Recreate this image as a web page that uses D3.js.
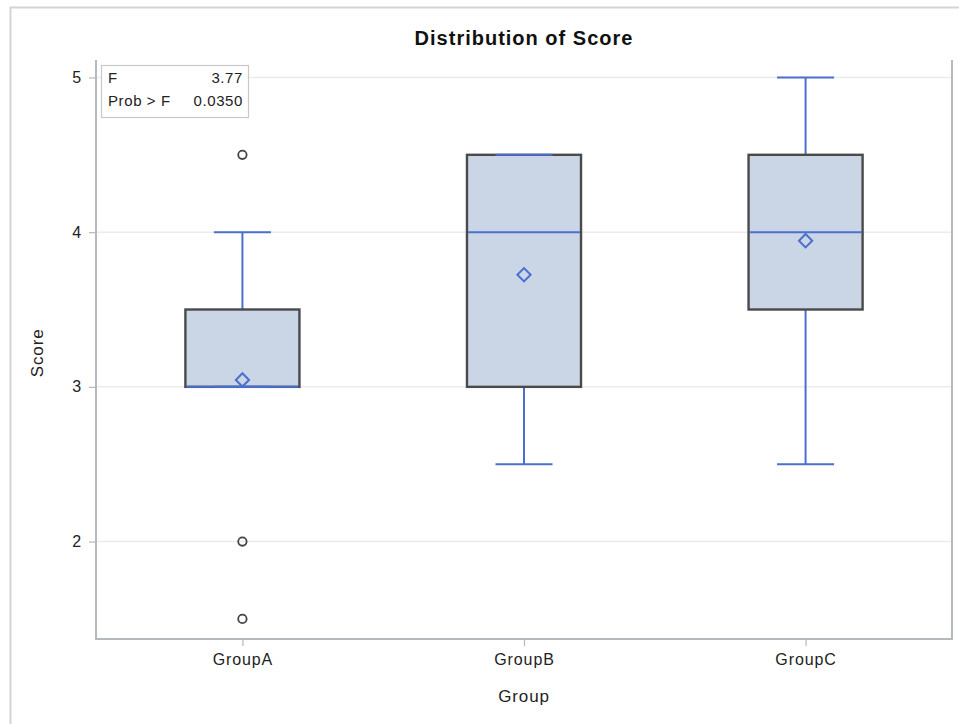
<!DOCTYPE html>
<html>
<head>
<meta charset="utf-8">
<script src="https://cdn.jsdelivr.net/npm/d3@7"></script>
<style>
  html, body { margin: 0; padding: 0; background: #fff; }
  svg { display: block; font-family: "Liberation Sans", Arial, sans-serif; }
</style>
</head>
<body>
<div id="chart"></div>
<script>
// data
const groups = ["GroupA", "GroupB", "GroupC"];
const q1 = [3.0, 3.0, 3.5];
const medians = [3.0, 4.0, 4.0];
const q3 = [3.5, 4.5, 4.5];
const whiskerLow = [3.0, 2.5, 2.5];
const whiskerHigh = [4.0, 4.5, 5.0];
const means = [3.045, 3.725, 3.945];
const outliers = [[4.5, 2.0, 1.5], [], []];
const yTicks = [2, 3, 4, 5];
const statLabels = ["F", "Prob > F"];
const statValues = ["3.77", "0.0350"];

const W = 959, H = 724;
const margin = { top: 62, right: 7, bottom: 85, left: 96 };

const svg = d3.select("#chart").append("svg")
  .attr("width", W).attr("height", H);

// outer frame of the graph
svg.append("path")
  .attr("d", `M10.5,${H} V7.5 H${W}`)
  .attr("fill", "none").attr("stroke", "#d4d4d4").attr("stroke-width", 2);

const x = d3.scalePoint()
  .domain(groups)
  .range([margin.left, W - margin.right])
  .padding(0.52);

const y = d3.scaleLinear()
  .domain([1.37, 5.1])
  .range([H - margin.bottom, margin.top]);

const step = x.step();
const boxW = step * 0.405;
const capW = boxW / 2;

// grid
svg.append("g")
  .selectAll("line")
  .data(yTicks)
  .join("line")
  .attr("x1", margin.left).attr("x2", W - margin.right)
  .attr("y1", d => y(d)).attr("y2", d => y(d))
  .attr("stroke", "#ececec").attr("stroke-width", 1.5);

// title
svg.append("text")
  .attr("x", (margin.left + W - margin.right) / 2)
  .attr("y", 45)
  .attr("text-anchor", "middle")
  .attr("font-size", 20)
  .attr("font-weight", "bold")
  .attr("fill", "#111")
  .style("letter-spacing", "1px")
  .text("Distribution of Score");

// axes
const yAxis = d3.axisLeft(y).tickValues(yTicks).tickFormat(d3.format("d")).tickSize(7).tickPadding(7);
const xAxis = d3.axisBottom(x).tickSize(7).tickPadding(8);

const gy = svg.append("g")
  .attr("transform", `translate(${margin.left},0)`)
  .call(yAxis);
const gx = svg.append("g")
  .attr("transform", `translate(0,${H - margin.bottom})`)
  .call(xAxis);

[gx, gy].forEach(g => {
  g.select(".domain").remove();
  g.selectAll(".tick line").attr("stroke", "#b8b8b8").attr("stroke-width", 1.2);
  g.selectAll(".tick text")
    .attr("fill", "#222")
    .attr("font-size", 16)
    .attr("font-family", "Liberation Sans, Arial, sans-serif")
    .style("letter-spacing", "0.9px");
});

// plot wall border
svg.append("path")
  .attr("d", `M${margin.left},${margin.top - 2} V${H - margin.bottom} H${W - margin.right} V${margin.top - 2}`)
  .attr("fill", "none").attr("stroke", "#b4b8bf").attr("stroke-width", 2);

// axis labels
svg.append("text")
  .attr("x", (margin.left + W - margin.right) / 2)
  .attr("y", 702)
  .attr("text-anchor", "middle")
  .attr("font-size", 17)
  .attr("fill", "#222")
  .style("letter-spacing", "0.9px")
  .text("Group");

svg.append("text")
  .attr("transform", `translate(43,${y(3.22)}) rotate(-90)`)
  .attr("text-anchor", "middle")
  .attr("font-size", 17)
  .attr("fill", "#222")
  .style("letter-spacing", "0.9px")
  .text("Score");

// boxes
const blue = "#4b6fcc";
const boxes = svg.append("g");
groups.forEach((g, i) => {
  const cx = x(g);
  const gg = boxes.append("g");
  // whiskers
  gg.append("line")
    .attr("x1", cx).attr("x2", cx)
    .attr("y1", y(q3[i])).attr("y2", y(whiskerHigh[i]))
    .attr("stroke", blue).attr("stroke-width", 2);
  gg.append("line")
    .attr("x1", cx).attr("x2", cx)
    .attr("y1", y(q1[i])).attr("y2", y(whiskerLow[i]))
    .attr("stroke", blue).attr("stroke-width", 2);
  // box
  gg.append("rect")
    .attr("x", cx - boxW / 2)
    .attr("y", y(q3[i]))
    .attr("width", boxW)
    .attr("height", y(q1[i]) - y(q3[i]))
    .attr("fill", "#cad6e6")
    .attr("stroke", "#4a4a4a").attr("stroke-width", 2.4);
  // caps
  [whiskerLow[i], whiskerHigh[i]].forEach(v => {
    gg.append("line")
      .attr("x1", cx - capW / 2).attr("x2", cx + capW / 2)
      .attr("y1", y(v)).attr("y2", y(v))
      .attr("stroke", blue).attr("stroke-width", 2);
  });
  // median
  gg.append("line")
    .attr("x1", cx - boxW / 2 + 1).attr("x2", cx + boxW / 2 - 1)
    .attr("y1", y(medians[i])).attr("y2", y(medians[i]))
    .attr("stroke", blue).attr("stroke-width", 2);
  // mean diamond
  gg.append("path")
    .attr("transform", `translate(${cx},${y(means[i])}) rotate(45)`)
    .attr("d", d3.symbol(d3.symbolSquare, 88)())
    .attr("fill", "none")
    .attr("stroke", blue).attr("stroke-width", 2);
  // outliers
  gg.selectAll("circle")
    .data(outliers[i])
    .join("circle")
    .attr("cx", cx).attr("cy", d => y(d))
    .attr("r", 4.2)
    .attr("fill", "none")
    .attr("stroke", "#444").attr("stroke-width", 1.8);
});

// inset statistics table
const inset = svg.append("g");
inset.append("rect")
  .attr("x", 101.5).attr("y", 65.5)
  .attr("width", 147).attr("height", 52)
  .attr("fill", "#fff")
  .attr("stroke", "#c8c8c8").attr("stroke-width", 1.2);
statLabels.forEach((lab, i) => {
  inset.append("text")
    .attr("x", 108).attr("y", 83 + i * 23)
    .attr("font-size", 15).attr("fill", "#222")
    .style("letter-spacing", "0.6px")
    .text(lab);
  inset.append("text")
    .attr("x", 243).attr("y", 83 + i * 23)
    .attr("text-anchor", "end")
    .attr("font-size", 15).attr("fill", "#222")
    .style("letter-spacing", "0.6px")
    .text(statValues[i]);
});
</script>
</body>
</html>
